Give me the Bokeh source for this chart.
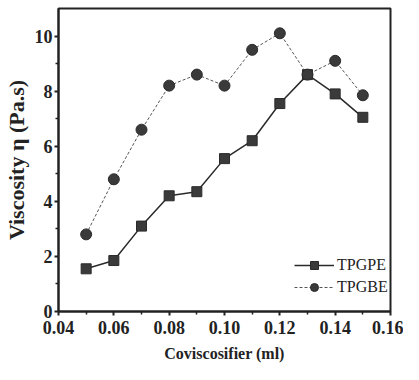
from bokeh.plotting import figure
from bokeh.models import Range1d, Legend, LegendItem, FixedTicker
from bokeh.embed import file_html
from bokeh.resources import INLINE

x = [0.05, 0.06, 0.07, 0.08, 0.09, 0.10, 0.11, 0.12, 0.13, 0.14, 0.15]
tpgpe = [1.55, 1.85, 3.1, 4.2, 4.35, 5.55, 6.2, 7.55, 8.6, 7.9, 7.05]
tpgbe = [2.8, 4.8, 6.6, 8.2, 8.6, 8.2, 9.5, 10.1, 8.6, 9.1, 7.85]
xticks = [0.04, 0.06, 0.08, 0.10, 0.12, 0.14, 0.16]
xtick_labels = ["0.04", "0.06", "0.08", "0.10", "0.12", "0.14", "0.16"]
yticks = [0, 2, 4, 6, 8, 10]

p = figure(width=403, height=364, output_backend="svg", toolbar_location=None,
           x_range=Range1d(0.04, 0.16), y_range=Range1d(0, 11),
           min_border_left=50, min_border_right=13, min_border_top=8, min_border_bottom=49)
p.xgrid.visible = False
p.ygrid.visible = False
p.outline_line_color = "#222222"
p.outline_line_width = 2

font = "Liberation Serif"
for ax in (p.xaxis[0], p.yaxis[0]):
    ax.axis_line_width = 2
    ax.axis_line_color = "#222222"
    ax.major_tick_line_width = 2
    ax.major_tick_line_color = "#222222"
    ax.minor_tick_line_color = "#222222"
    ax.minor_tick_line_width = 1.5
    ax.major_tick_in = 0
    ax.major_tick_out = 4
    ax.minor_tick_in = 0
    ax.minor_tick_out = 3
    ax.major_label_text_font = font
    ax.major_label_text_font_style = "bold"
    ax.major_label_text_font_size = "18px"
    ax.major_label_text_color = "#222222"
    ax.axis_label_text_font = font
    ax.axis_label_text_font_style = "bold"
    ax.axis_label_text_color = "#222222"

p.xaxis.axis_label_text_font_size = "16px"
p.yaxis.axis_label_text_font_size = "22px"
p.xaxis.ticker = FixedTicker(ticks=xticks, minor_ticks=[0.05, 0.07, 0.09, 0.11, 0.13, 0.15])
p.xaxis.major_label_overrides = {t: l for t, l in zip(xticks, xtick_labels)}
p.yaxis.ticker = FixedTicker(ticks=yticks, minor_ticks=[1, 3, 5, 7, 9])
p.xaxis.axis_label = "Coviscosifier (ml)"
p.yaxis.axis_label = "Viscosity η (Pa.s)"
p.xaxis.major_label_standoff = 5
p.yaxis.major_label_standoff = 2
p.xaxis.axis_label_standoff = 8
p.yaxis.axis_label_standoff = 3

l1 = p.line(x, tpgpe, line_color="#2a2a2a", line_width=1.5)
m1 = p.scatter(x, tpgpe, marker="square", size=10, fill_color="#3a3a3a", line_color="#2a2a2a")
l2 = p.line(x, tpgbe, line_color="#555555", line_width=1, line_dash="3 2")
m2 = p.scatter(x, tpgbe, marker="circle", size=11, fill_color="#3a3a3a", line_color="#2a2a2a")

legend = Legend(items=[LegendItem(label="TPGPE", renderers=[l1, m1]),
                       LegendItem(label="TPGBE", renderers=[l2, m2])],
                location=(234, 12), border_line_alpha=0, background_fill_alpha=0,
                label_text_font=font, label_text_font_size="16px", label_text_color="#222222",
                glyph_width=40, label_standoff=3, spacing=2, margin=0, padding=2)
p.add_layout(legend)

open("out.html", "w").write(file_html(p, INLINE))
